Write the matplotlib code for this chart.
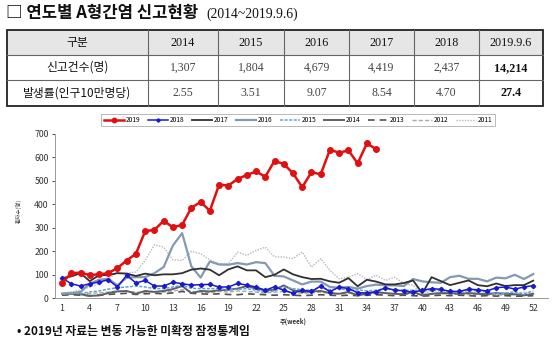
import matplotlib
matplotlib.use("Agg")
import matplotlib.pyplot as plt
from matplotlib.patches import Rectangle

plt.rcParams['font.family'] = ['Noto Sans CJK KR', 'DejaVu Sans']

# ---------------- data ----------------
table_header = ["구분", "2014", "2015", "2016", "2017", "2018", "2019.9.6"]
row_cases_label = "신고건수(명)"
row_cases = ["1,307", "1,804", "4,679", "4,419", "2,437", "14,214"]
row_rate_label = "발생률(인구10만명당)"
row_rate = ["2.55", "3.51", "9.07", "8.54", "4.70", "27.4"]

weeks = list(range(1, 53))
week_ticks = list(range(1, 53, 3))

s2019 = [64, 106, 108, 98, 101, 106, 128, 160, 189, 285, 291, 329, 302, 312, 385,
         410, 372, 484, 480, 508, 525, 540, 518, 585, 572, 532, 473, 537, 528, 633,
         620, 630, 575, 660, 635]
s2018 = [85, 61, 51, 61, 68, 78, 47, 97, 64, 75, 51, 51, 67, 61, 55, 57, 58, 47, 47,
         62, 55, 47, 33, 48, 33, 21, 33, 28, 51, 27, 47, 40, 23, 21, 27, 44, 33, 31,
         24, 33, 40, 37, 28, 28, 38, 35, 30, 44, 47, 38, 47, 53]
s2017 = [85, 92, 106, 72, 97, 98, 106, 104, 94, 104, 97, 101, 101, 106, 121, 126, 121,
         97, 122, 135, 118, 118, 89, 99, 122, 101, 89, 81, 82, 71, 65, 85, 50, 78, 70,
         58, 58, 64, 75, 20, 89, 72, 55, 65, 75, 55, 50, 62, 51, 55, 55, 74]
s2016 = [18, 21, 26, 61, 78, 82, 54, 87, 89, 89, 106, 132, 224, 277, 135, 87, 156, 143,
         142, 149, 143, 153, 149, 95, 92, 75, 58, 70, 70, 47, 44, 47, 40, 51, 57, 54,
         54, 51, 81, 71, 67, 65, 89, 95, 82, 82, 71, 87, 84, 99, 81, 102]
s2015 = [18, 23, 18, 26, 30, 38, 44, 47, 51, 47, 40, 40, 47, 55, 41, 40, 40, 40, 35,
         37, 40, 33, 26, 30, 47, 40, 35, 33, 47, 35, 40, 33, 35, 30, 33, 40, 35, 33,
         33, 30, 33, 33, 30, 26, 33, 30, 26, 18, 21, 26, 18, 30]
s2014 = [18, 18, 16, 9, 11, 21, 28, 30, 18, 30, 26, 30, 38, 51, 21, 30, 28, 33, 35,
         40, 51, 40, 33, 35, 54, 33, 26, 28, 30, 21, 18, 26, 11, 18, 26, 21, 18, 16,
         26, 11, 18, 21, 21, 18, 21, 18, 16, 21, 18, 16, 11, 18]
s2013 = [12, 14, 12, 10, 12, 15, 18, 20, 15, 18, 20, 18, 22, 28, 20, 18, 16, 18, 15,
         14, 18, 16, 14, 12, 14, 12, 10, 12, 14, 12, 10, 12, 10, 12, 14, 12, 10, 12,
         10, 8, 10, 12, 10, 12, 10, 8, 10, 8, 10, 8, 8, 10]
s2012 = [15, 18, 16, 20, 22, 25, 30, 28, 25, 22, 28, 25, 30, 35, 28, 25, 22, 28, 25,
         30, 28, 25, 22, 25, 28, 22, 20, 22, 25, 20, 18, 20, 22, 20, 18, 20, 18, 15,
         18, 16, 15, 18, 15, 16, 14, 15, 12, 14, 12, 14, 12, 10]
s2011 = [20, 25, 35, 47, 61, 80, 111, 105, 111, 160, 227, 217, 163, 160, 199, 189,
         163, 146, 146, 196, 182, 203, 217, 175, 175, 168, 196, 132, 168, 118, 82, 89,
         104, 78, 97, 75, 89, 61, 54, 18, 30, 25, 28, 22, 25, 20, 22, 18, 20, 15, 25, 20]

series = [
    ("2019", s2019, dict(color="#e01010", lw=1.8, marker="o", ms=4.0, zorder=10)),
    ("2018", s2018, dict(color="#1a1acc", lw=1.1, marker="D", ms=2.2, zorder=9)),
    ("2017", s2017, dict(color="#303030", lw=1.3, zorder=8)),
    ("2016", s2016, dict(color="#8499b3", lw=1.6, zorder=7)),
    ("2015", s2015, dict(color="#5ea3d6", lw=1.1, dashes=(2, 1), zorder=6)),
    ("2014", s2014, dict(color="#606060", lw=1.4, zorder=5)),
    ("2013", s2013, dict(color="#505050", lw=1.2, dashes=(4, 3), zorder=4)),
    ("2012", s2012, dict(color="#a8a8a8", lw=1.0, dashes=(3, 1.5), zorder=3)),
    ("2011", s2011, dict(color="#b8b8b8", lw=1.0, dashes=(1, 1), zorder=2)),
]

W, H = 560, 340
fig = plt.figure(figsize=(W / 100, H / 100), dpi=100)
fig.patch.set_facecolor("white")

# overlay axes in pixel coordinates for title / table / footnote
ov = fig.add_axes([0, 0, 1, 1])
ov.set_xlim(0, W)
ov.set_ylim(H, 0)
ov.axis("off")

serif = ['Liberation Serif', 'Noto Sans CJK KR']

ov.text(6, 13, "□ 연도별 A형간염 신고현황", fontsize=12, fontweight="bold",
        va="center", ha="left", color="#111111")
ov.text(206, 14.5, "(2014~2019.9.6)", fontsize=9.8, va="center", ha="left",
        family=serif, color="#111111")

# table
col_edges = [7, 148, 218, 284, 349, 414, 479, 543]
row_edges = [30, 55, 80, 106]
ov.add_patch(Rectangle((col_edges[0], row_edges[0]), col_edges[-1] - col_edges[0],
                       row_edges[1] - row_edges[0], facecolor="#e6e6e6",
                       edgecolor="none"))
for x in col_edges[1:-1]:
    ov.plot([x, x], [row_edges[0], row_edges[-1]], color="#666666", lw=0.8)
for y in row_edges[1:-1]:
    ov.plot([col_edges[0], col_edges[-1]], [y, y], color="#666666", lw=0.8)
ov.add_patch(Rectangle((col_edges[0], row_edges[0]), col_edges[-1] - col_edges[0],
                       row_edges[-1] - row_edges[0], facecolor="none",
                       edgecolor="#222222", lw=1.3))

centers = [(col_edges[i] + col_edges[i + 1]) / 2 for i in range(len(col_edges) - 1)]
rows = [table_header, [row_cases_label] + row_cases, [row_rate_label] + row_rate]
for r, row in enumerate(rows):
    yc = (row_edges[r] + row_edges[r + 1]) / 2
    for c, txt in enumerate(row):
        if c == 0:
            ov.text(centers[c], yc, txt, fontsize=8.5, ha="center", va="center",
                    color="#111111")
        elif r == 0:
            ov.text(centers[c], yc + 0.5, txt, fontsize=8.7, ha="center",
                    va="center", family=serif, color="#111111")
        else:
            bold = (c == len(row) - 1)
            ov.text(centers[c], yc + 0.5, txt, fontsize=8.7 if bold else 8.5,
                    ha="center", va="center", family=serif,
                    fontweight="bold" if bold else "normal",
                    color="#111111" if bold else "#444444")

ov.text(17, 332, "• 2019년 자료는 변동 가능한 미확정 잠정통계임", fontsize=8.5,
        fontweight="bold", ha="left", va="center", color="#111111")

# chart axes
left_px, right_px, top_px, bot_px = 55, 548, 134, 298
ax = fig.add_axes([left_px / W, (H - bot_px) / H, (right_px - left_px) / W,
                   (bot_px - top_px) / H])
ax.patch.set_alpha(0)
for name, vals, kw in series:
    ax.plot(weeks[:len(vals)], vals, label=name, **kw)

ax.set_xlim(0.24, 53.6)
ax.set_ylim(0, 700)
ax.set_yticks(range(0, 701, 100))
ax.set_xticks(week_ticks)
ax.tick_params(axis="both", labelsize=6.3, colors="#333333", length=2.5,
               width=0.6, pad=2)
ax.tick_params(axis="x", length=0, pad=4)
for s in ["top", "right"]:
    ax.spines[s].set_visible(False)
ax.spines["left"].set_color("#999999")
ax.spines["bottom"].set_color("#999999")
ax.spines["left"].set_linewidth(0.7)
ax.spines["bottom"].set_linewidth(0.7)
ax.set_ylabel("환자수(명)", fontsize=4, color="#333333")
ax.yaxis.set_label_coords(-(left_px - 22) / (right_px - left_px), 0.53)
ax.set_xlabel("주(week)", fontsize=4.5, labelpad=2, color="#333333",
              fontweight="bold")
ax.xaxis.set_label_coords((293 - left_px) / (right_px - left_px),
                          -(318 - bot_px) / (bot_px - top_px))

leg = fig.legend(loc="center", bbox_to_anchor=(298 / W, 1 - 120 / H), ncol=9,
                 fontsize=4.8, frameon=True, fancybox=False, edgecolor="#999999",
                 handlelength=3.0, handletextpad=0.3, columnspacing=1.1,
                 borderpad=0.35, markerscale=0.8)
leg.get_frame().set_linewidth(0.6)

fig.savefig("out.png", dpi=100, facecolor="white")
